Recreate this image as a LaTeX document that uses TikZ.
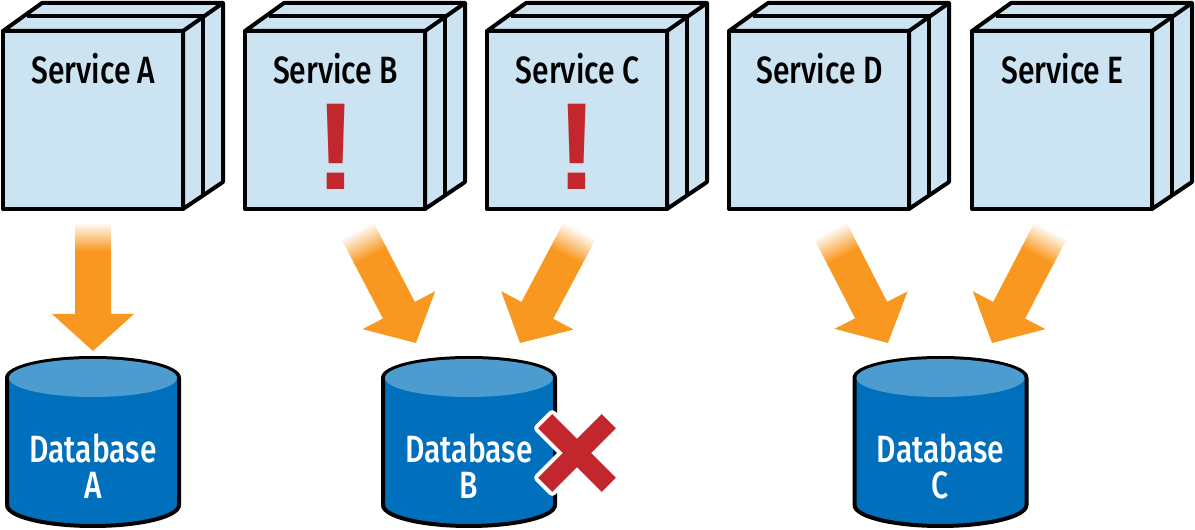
\documentclass[tikz,border=0pt]{standalone}
\usepackage{fontspec}
\usepackage{tikz}
\usetikzlibrary{calc}
\newfontfamily\condfont{Fira Sans Medium}[FakeStretch=0.79]
\newfontfamily\alertfont{Liberation Sans}
\definecolor{boxfill}{HTML}{CCE3F1}
\definecolor{dbbody}{HTML}{0070BC}
\definecolor{dbtop}{HTML}{4C9CD0}
\definecolor{arrowfill}{HTML}{F99820}
\definecolor{alertred}{HTML}{C1272D}
\tikzset{
	box line/.style={draw=black,line width=4pt,line join=round},
	service box/.style={box line,fill=boxfill,minimum width=180pt,minimum height=178pt,inner sep=0pt},
	service text/.style={font=\condfont\fontsize{38}{38}\selectfont,text=black},
	db text/.style={font=\condfont\fontsize{38}{36}\selectfont,text=white,align=center},
	alert text/.style={font=\alertfont\bfseries\fontsize{124}{124}\selectfont,text=alertred,inner sep=0pt,anchor=base},
	fat arrow/.pic={
		\fill[arrowfill] (29,-18) -- ({#1-37},-18) -- ({#1-37},-41) -- (#1,0) -- ({#1-37},41) -- ({#1-37},18) -- (29,18) -- cycle;
		\foreach \i in {0,...,29}{
			\pgfmathsetmacro{\tint}{\i/29*100}
			\fill[arrowfill!\tint!white] (\i,-18) rectangle ({\i+1.4},18);
		}
	}
}
\newcommand{\fatarrow}[2]{
	\path let \p1=(#1), \p2=(#2), \n1={atan2(\y2-\y1,\x2-\x1)}, \n2={veclen(\x2-\x1,\y2-\y1)} in
		pic[rotate=\n1] at (#1) {fat arrow=\n2};
}
\begin{document}
\begin{tikzpicture}[x=1pt,y=1pt]
	\useasboundingbox (0,0) rectangle (1195,530);

	\foreach \name/\off in {A/0,B/242,C/484,D/726,E/969}{
		\begin{scope}[xshift=\off]
			\draw[box line,fill=boxfill] (3,499) -- (42,527) -- (223,527) -- (223,348) -- (183,321) -- (183,499) -- cycle;
			\draw[box line] (27,514) -- (203,514) -- (203,335);
			\draw[box line] (183,499) -- (223,527);
			\node[service box] (box\name) at (93,410) {};
			\node[service text] (label\name) at (93.5,461.5) {Service \name};
		\end{scope}
	}

	\node[alert text] (alertB) at (336.5,340) {!};
	\node[alert text] (alertC) at (577.5,340) {!};

	\foreach \name/\x in {A/93,B/469,C/940.5}{
		\begin{scope}[xshift=\x]
			\draw[box line,fill=dbbody] (-86,152) arc (180:0:86 and 20) -- (86,25) arc (0:-180:86 and 21) -- cycle;
			\fill[dbtop] (0,152) ellipse (84 and 19);
			\node[db text] (db\name) at (0,64) {Database\\\name};
		\end{scope}
	}

	\begin{scope}[shift={(577,77)},rotate=45]
		\draw[draw=white,line width=8pt,line join=round,fill=alertred]
			(-10,-45) -- (10,-45) -- (10,-10) -- (45,-10) -- (45,10) -- (10,10) -- (10,45) -- (-10,45) -- (-10,10) -- (-45,10) -- (-45,-10) -- (-10,-10) -- cycle;
		\fill[alertred]
			(-10,-45) -- (10,-45) -- (10,-10) -- (45,-10) -- (45,10) -- (10,10) -- (10,45) -- (-10,45) -- (-10,10) -- (-45,10) -- (-45,-10) -- (-10,-10) -- cycle;
	\end{scope}

	\coordinate (tailA) at (93,308);
	\coordinate (tipA) at (93,179);
	\coordinate (tailB) at (357,300);
	\coordinate (tipB) at (416,187);
	\coordinate (tailC) at (580,300);
	\coordinate (tipC) at (520,187);
	\coordinate (tailD) at (830,300);
	\coordinate (tipD) at (888,187);
	\coordinate (tailE) at (1051,300);
	\coordinate (tipE) at (992,187);
	\fatarrow{tailA}{tipA}
	\fatarrow{tailB}{tipB}
	\fatarrow{tailC}{tipC}
	\fatarrow{tailD}{tipD}
	\fatarrow{tailE}{tipE}
\end{tikzpicture}
\end{document}
